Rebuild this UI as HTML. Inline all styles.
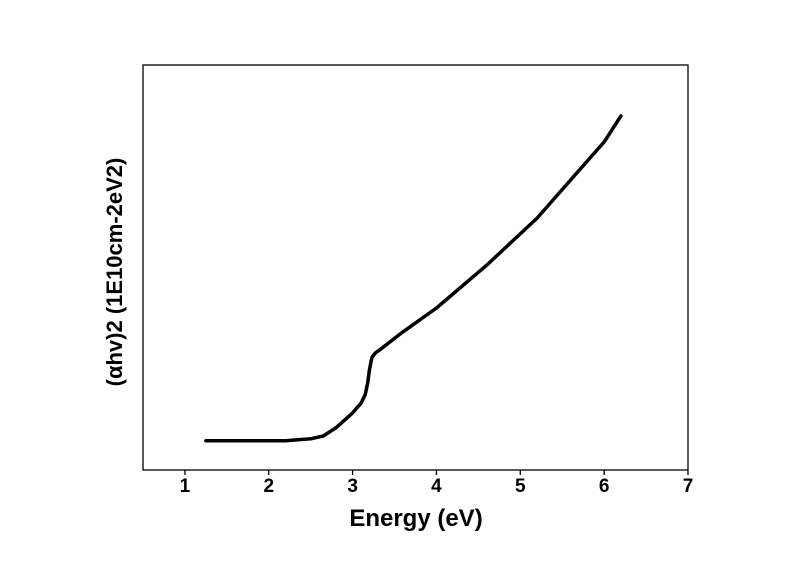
<!DOCTYPE html>
<html><head><meta charset="utf-8"><style>
html,body{margin:0;padding:0;background:#fff;}
svg{display:block;font-family:"Liberation Sans",Arial,sans-serif;}
</style></head><body>
<svg id="chart" width="800" height="565" viewBox="0 0 800 565"></svg>
<script>
const xTicks=[1,2,3,4,5,6,7];
const energy=[1.25,2.2,2.5,2.65,2.8,3.0,3.1,3.15,3.18,3.2,3.23,3.27,3.32,3.6,4.0,4.6,5.2,5.6,6.0,6.2];
const absorb=[7.2,7.2,7.7,8.4,10.4,14.1,16.5,18.6,21.5,24.7,27.8,28.9,29.6,34.1,40.0,50.6,62.2,71.6,81.0,87.4];
const L=143,T=65,R=688,B=470;
const xmin=0.5,xmax=7,ymin=0,ymax=100;
const sx=v=>L+(v-xmin)/(xmax-xmin)*(R-L);
const sy=v=>B-(v-ymin)/(ymax-ymin)*(B-T);
const svg=document.getElementById('chart');
const NS='http://www.w3.org/2000/svg';
function mk(tag,attrs,parent){const e=document.createElementNS(NS,tag);for(const k in attrs)e.setAttribute(k,attrs[k]);(parent||svg).appendChild(e);return e;}
const frame=mk('rect',{x:L,y:T,width:R-L,height:B-T,fill:'none',stroke:'#000','stroke-width':1.3});


xTicks.forEach(t=>{
  const ln=mk('line',{x1:sx(t),x2:sx(t),y1:B,y2:B+5,stroke:'#000','stroke-width':1.3});
  
  
  const tx=mk('text',{x:sx(t),y:B+22,'text-anchor':'middle','font-size':19,'font-weight':'bold'});
  tx.textContent=t;
  
  
});
const d=energy.map((e,i)=>(i?'L':'M')+sx(e).toFixed(1)+','+sy(absorb[i]).toFixed(1)).join(' ');
const p=mk('path',{d:d,fill:'none',stroke:'#000','stroke-width':3.5,'stroke-linejoin':'round','stroke-linecap':'round'});


const xt=mk('text',{x:416,y:526,'text-anchor':'middle','font-size':24,'font-weight':'bold'});
xt.textContent='Energy (eV)';


const yt=mk('text',{x:0,y:0,transform:'translate(122,272) rotate(-90)','text-anchor':'middle','font-size':22,'font-weight':'bold'});
yt.textContent='(αhv)2 (1E10cm-2eV2)';


</script>
</body></html>
